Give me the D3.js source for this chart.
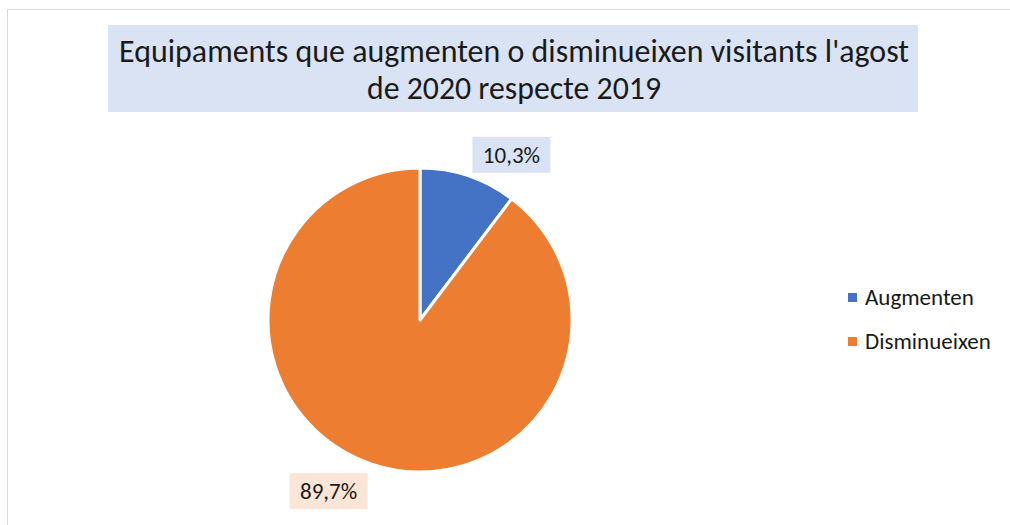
<!DOCTYPE html>
<html>
<head>
<meta charset="utf-8">
<script src="https://cdn.jsdelivr.net/npm/d3@7"></script>
<style>
  body { margin: 0; background: #fff; }
  svg { display: block; font-family: Carlito, Lato, "Open Sans", sans-serif; }
</style>
</head>
<body>
<script>
// data
const categories = ['Augmenten', 'Disminueixen']
const values = [10.3, 89.7]
const labels = ['10,3%', '89,7%']
const colors = ['#4472c4', '#ed7d31']
const labelFills = ['#dae3f3', '#fbe5d6']
const titleLines = ["Equipaments que augmenten o disminueixen visitants l'agost", 'de 2020 respecte 2019']

const WIDTH = 1010
const HEIGHT = 525
const CX = 420
const CY = 320
const RADIUS = 152
const LABEL_RADIUS = 190
// nudges to match the placement of the original labels
const LABEL_SHIFT = [[31, 15], [-31, -9]]

const svg = d3.select('body').append('svg')
  .attr('width', WIDTH)
  .attr('height', HEIGHT)

// outer frame
svg.append('rect')
  .attr('x', 7.5).attr('y', 9.5)
  .attr('width', WIDTH).attr('height', HEIGHT)
  .attr('fill', 'none')
  .attr('stroke', '#d9d9d9')

// title box
svg.append('rect')
  .attr('x', 108).attr('y', 25)
  .attr('width', 810).attr('height', 87)
  .attr('fill', '#dae3f3')

const title = svg.append('text')
  .attr('text-anchor', 'middle')
  .attr('font-size', 32)
  .attr('fill', '#1a1a1a')

titleLines.forEach((line, i) => {
  const t = title.append('tspan')
    .attr('x', 514)
    .attr('y', 62 + i * 37)
    .text(line)
  if (i === 0) t.attr('textLength', 790).attr('lengthAdjust', 'spacingAndGlyphs')
  else t.attr('textLength', 294).attr('lengthAdjust', 'spacingAndGlyphs')
})

// pie
const pie = d3.pie().sort(null).value(d => d)
const arcs = pie(values)
const arc = d3.arc().innerRadius(0).outerRadius(RADIUS)
const labelArc = d3.arc().innerRadius(LABEL_RADIUS).outerRadius(LABEL_RADIUS)

const g = svg.append('g').attr('transform', `translate(${CX},${CY})`)

g.selectAll('path')
  .data(arcs)
  .join('path')
    .attr('d', arc)
    .attr('fill', (d, i) => colors[i])
    .attr('stroke', '#fff')
    .attr('stroke-width', 3)
    .attr('stroke-linejoin', 'round')

// data labels
arcs.forEach((d, i) => {
  const [lx, ly] = labelArc.centroid(d)
  const x = lx + LABEL_SHIFT[i][0]
  const y = ly + LABEL_SHIFT[i][1]
  g.append('rect')
    .attr('x', x - 39).attr('y', y - 18)
    .attr('width', 78).attr('height', 36)
    .attr('fill', labelFills[i])
  g.append('text')
    .attr('x', x).attr('y', y + 8)
    .attr('text-anchor', 'middle')
    .attr('font-size', 23)
    .attr('fill', '#1a1a1a')
    .text(labels[i])
})

// legend
const legend = svg.append('g').attr('transform', 'translate(848,297)')
const items = legend.selectAll('g')
  .data(categories)
  .join('g')
    .attr('transform', (d, i) => `translate(0,${i * 44})`)

items.append('rect')
  .attr('x', 0).attr('y', -4)
  .attr('width', 9).attr('height', 9)
  .attr('fill', (d, i) => colors[i])

items.append('text')
  .attr('x', 17).attr('y', 8)
  .attr('font-size', 23)
  .attr('fill', '#1a1a1a')
  .text(d => d)
</script>
</body>
</html>
